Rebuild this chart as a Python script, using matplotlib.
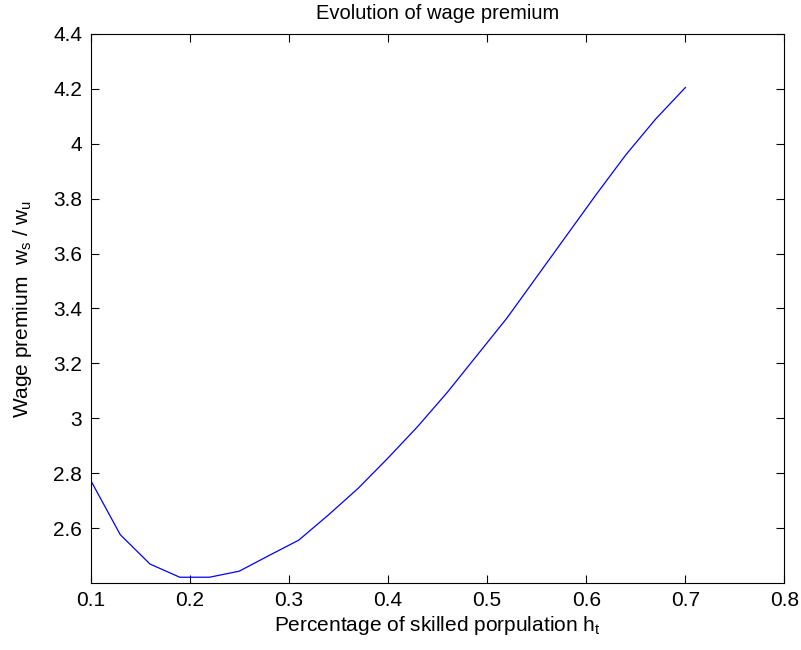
import matplotlib
matplotlib.use("Agg")
import matplotlib.pyplot as plt

fam = "Liberation Sans"
plt.rcParams['font.family'] = [fam, "DejaVu Sans"]
plt.rcParams['mathtext.fontset'] = 'custom'
plt.rcParams['mathtext.rm'] = fam
plt.rcParams['mathtext.it'] = fam

h_share = [0.10, 0.13, 0.16, 0.19, 0.22, 0.25, 0.28, 0.31, 0.34, 0.37, 0.40,
           0.43, 0.46, 0.49, 0.52, 0.55, 0.58, 0.61, 0.64, 0.67, 0.70]
wage_premium = [2.775, 2.576, 2.469, 2.421, 2.421, 2.443, 2.500, 2.556, 2.648, 2.745, 2.855,
                2.970, 3.095, 3.230, 3.365, 3.515, 3.665, 3.815, 3.960, 4.090, 4.205]
xticks = [0.1, 0.2, 0.3, 0.4, 0.5, 0.6, 0.7, 0.8]
yticks = [2.6, 2.8, 3.0, 3.2, 3.4, 3.6, 3.8, 4.0, 4.2, 4.4]
ytick_labels = ["2.6", "2.8", "3", "3.2", "3.4", "3.6", "3.8", "4", "4.2", "4.4"]

fig = plt.figure(figsize=(8.01, 6.5), dpi=100)
ax = fig.add_axes([0.113, 0.1031, 0.9794 - 0.113, 0.9477 - 0.1031])
ax.plot(h_share, wage_premium, color=(0, 0, 1), lw=0.9)
ax.set_xlim(0.1, 0.8)
ax.set_ylim(2.4, 4.4)
ax.set_xticks(xticks)
ax.set_xticklabels([f"{v:g}" for v in xticks])
ax.set_yticks(yticks)
ax.set_yticklabels(ytick_labels)
ax.tick_params(direction='in', top=True, right=True, length=6, width=0.8, labelsize=15, pad=6)
for s in ax.spines.values():
    s.set_linewidth(0.8)
ax.set_title("Evolution of wage premium", fontsize=14.5, pad=11)
ax.set_xlabel(r"Percentage of skilled porpulation h$_\mathregular{t}$", fontsize=15, labelpad=3)
ax.set_ylabel(r"Wage premium  w$_\mathregular{s}$ / w$_\mathregular{u}$", fontsize=15, labelpad=14)
fig.savefig("out.png", dpi=100)
